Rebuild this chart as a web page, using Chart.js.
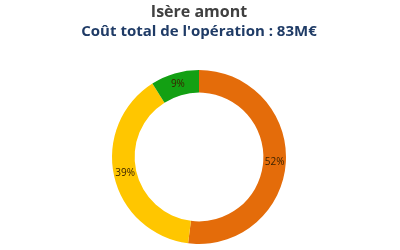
<!DOCTYPE html>
<html>
<head>
<meta charset="utf-8">
<script src="https://cdn.jsdelivr.net/npm/chart.js@4"></script>
<style>
html,body{margin:0;padding:0;background:#fff;}
#wrap{width:400px;height:250px;}
</style>
</head>
<body>
<div id="wrap"><canvas id="c" width="400" height="250"></canvas></div>
<script>
const categories = ["A", "B", "C"];
const values = [52, 39, 9];
const labelsText = ["52%", "39%", "9%"];
const colors = ["#E46C0A", "#FFC600", "#13A013"];

const labelPlugin = {
  id: 'pctLabels',
  afterDatasetsDraw(chart) {
    const ctx = chart.ctx;
    const meta = chart.getDatasetMeta(0);
    ctx.save();
    ctx.font = '10px "Open Sans", sans-serif';
    ctx.fillStyle = '#3A2200';
    ctx.textAlign = 'center';
    ctx.textBaseline = 'middle';
    meta.data.forEach((arc, i) => {
      const p = arc.tooltipPosition();
      ctx.fillText(labelsText[i], p.x, p.y);
    });
    ctx.restore();
  }
};

new Chart(document.getElementById('c'), {
  type: 'doughnut',
  data: {
    labels: categories,
    datasets: [{
      data: values,
      backgroundColor: colors,
      borderWidth: 0,
      cutout: '74%'
    }]
  },
  options: {
    responsive: false,
    animation: false,
    layout: { padding: { bottom: 6, left: 0, right: 2 } },
    plugins: {
      legend: { display: false },
      tooltip: { enabled: false },
      title: {
        display: true,
        text: 'Isère amont',
        color: '#404040',
        font: { size: 16, weight: 'bold', family: '"Open Sans", sans-serif' },
        padding: { top: 2.4, bottom: 0.5 }
      },
      subtitle: {
        display: true,
        text: "Coût total de l'opération : 83M€",
        color: '#1F3B66',
        font: { size: 15, weight: 'bold', family: '"Open Sans", sans-serif' },
        padding: { top: 0.5, bottom: 29.4 }
      }
    }
  },
  plugins: [labelPlugin]
});
</script>
</body>
</html>
